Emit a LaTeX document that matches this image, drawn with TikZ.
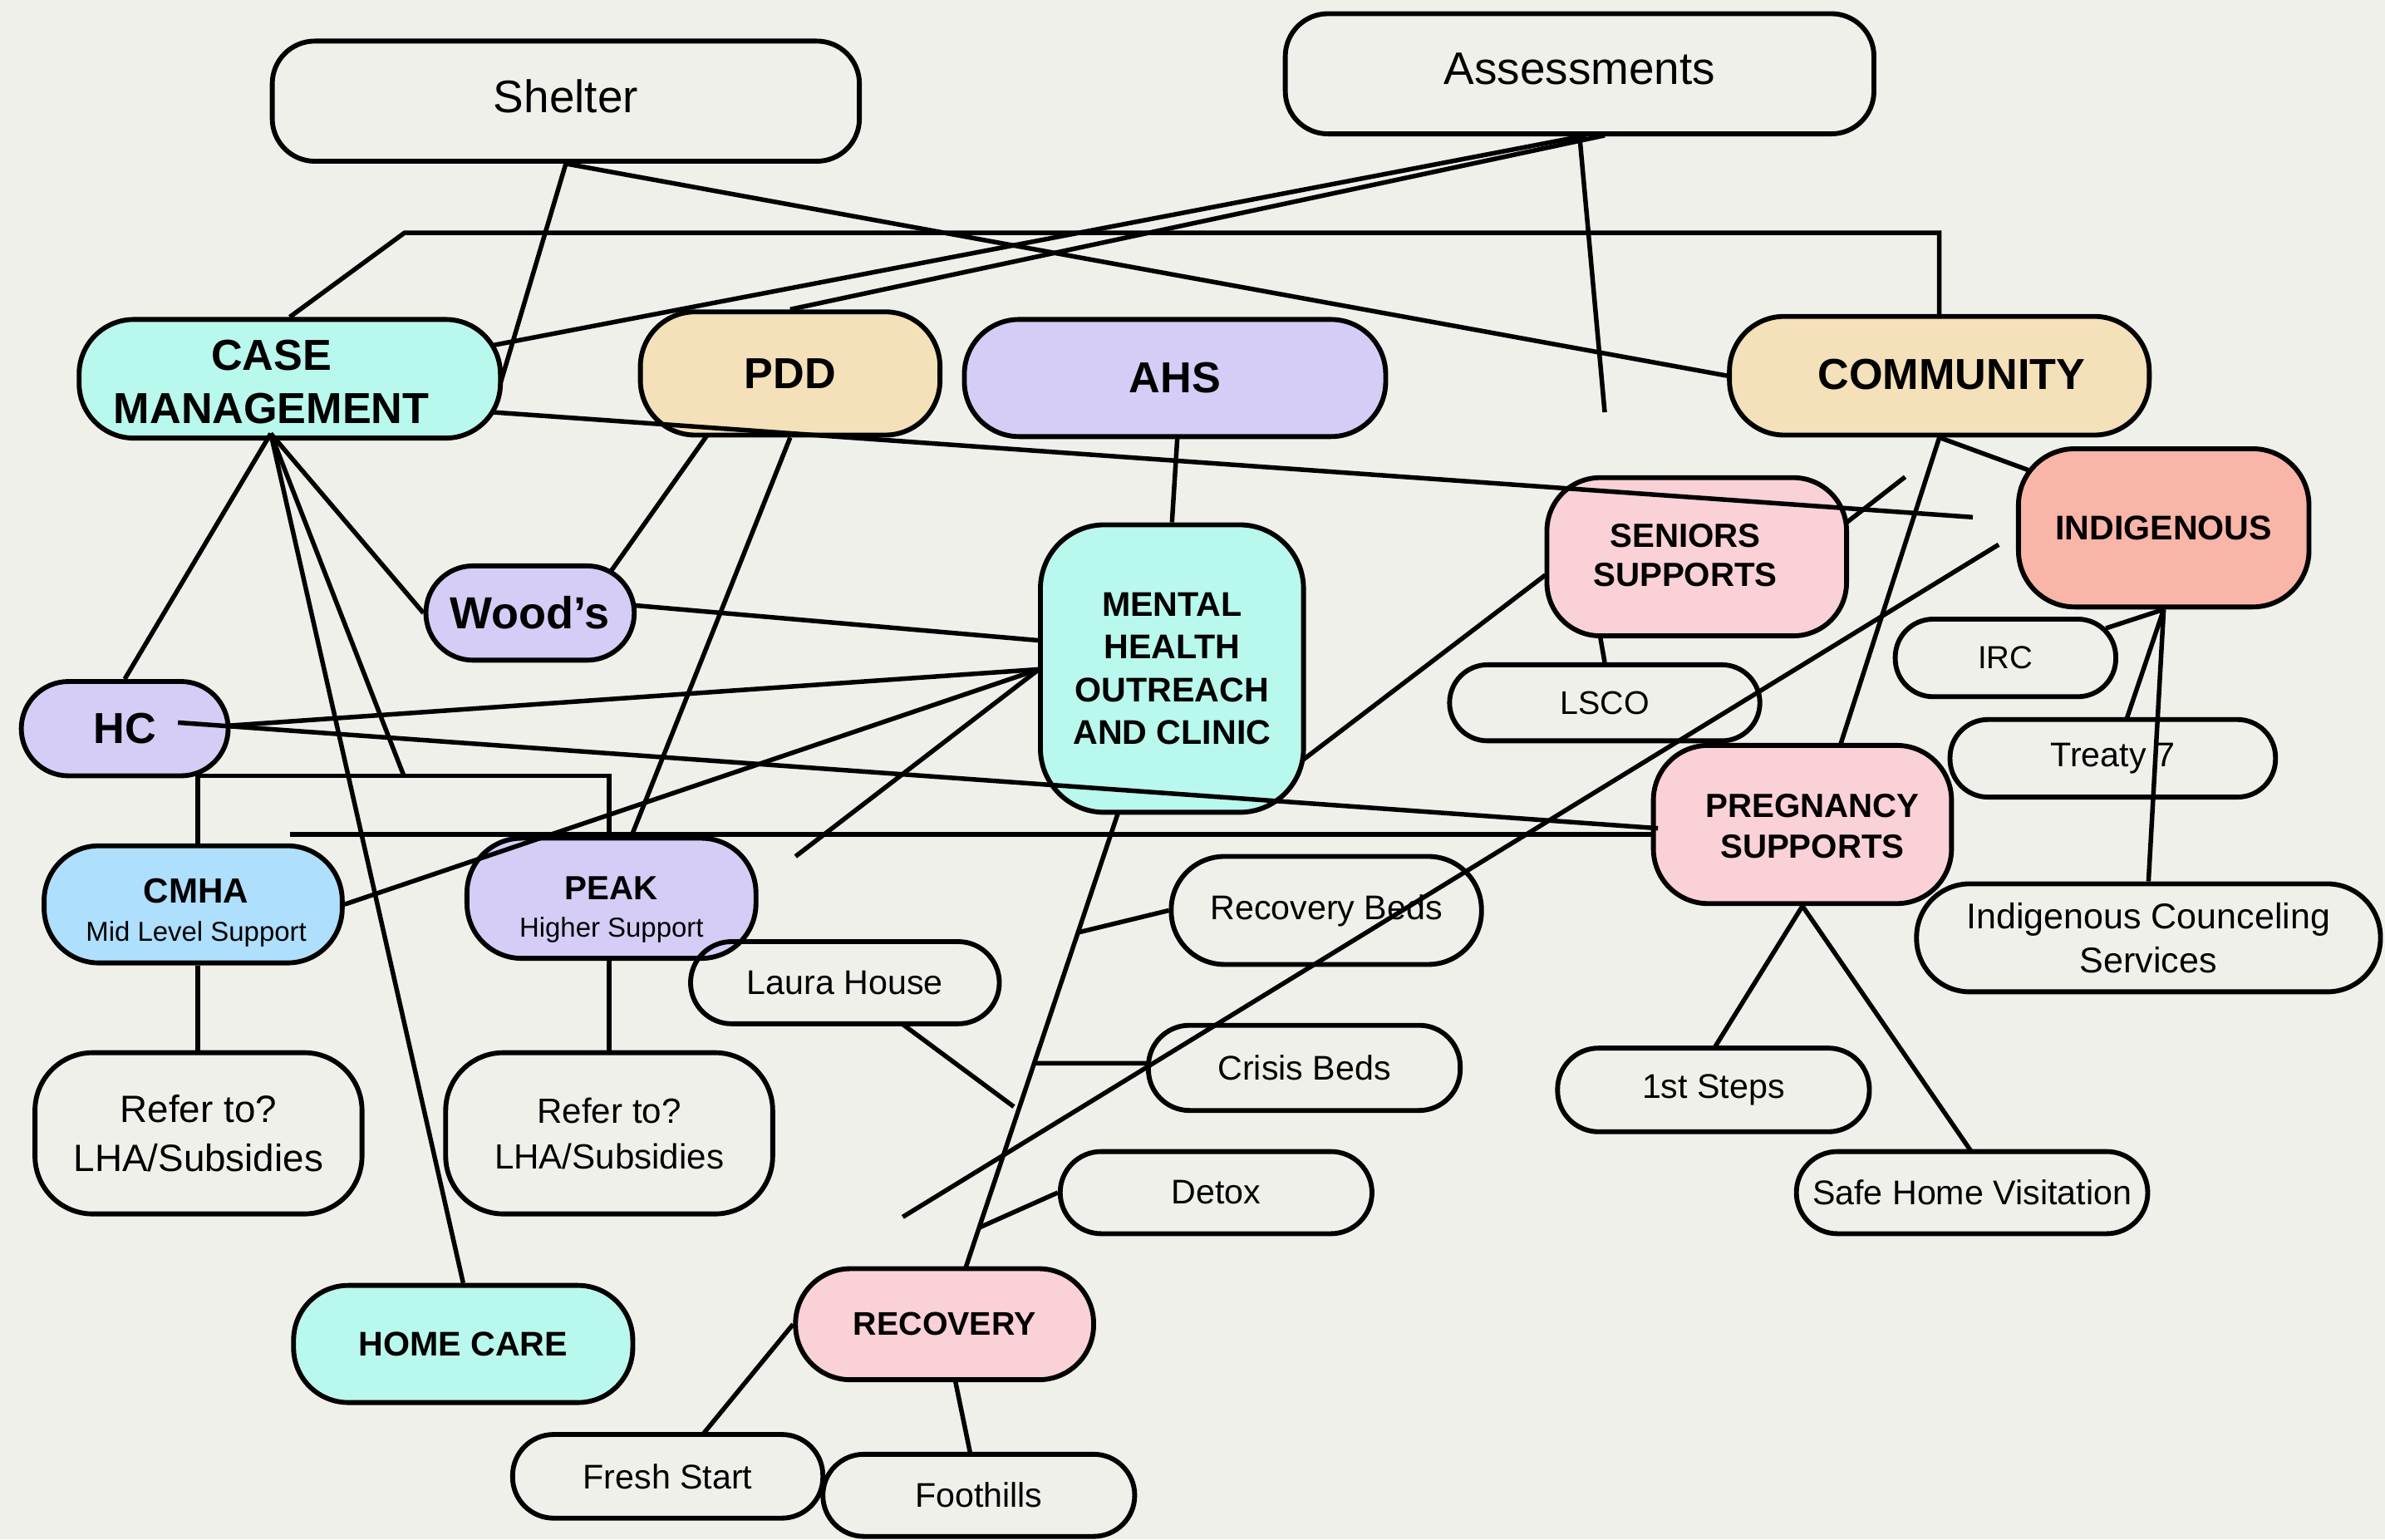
\documentclass[tikz,border=0pt]{standalone}
\usepackage{fontspec}
\setmainfont{Liberation Sans}
\usetikzlibrary{calc}
\definecolor{bgc}{HTML}{F0F0EA}
\definecolor{mint}{HTML}{B9F8EC}
\definecolor{beige}{HTML}{F4E0B9}
\definecolor{lav}{HTML}{D5CDF6}
\definecolor{pinkc}{HTML}{F9D1D7}
\definecolor{salmon}{HTML}{F9B5A8}
\definecolor{bluec}{HTML}{AEDFFC}
\begin{document}
\begin{tikzpicture}[x=1pt,y=-1pt,
  box/.style={draw=black, line width=3.2pt, rounded corners=#1, inner sep=0pt, align=center},
  box/.default=27pt,
  rtxt/.style={font=\fontsize{22.5}{27}\selectfont, align=center},
  btxt/.style={font=\fontsize{22.5}{27}\selectfont\bfseries, align=center},
  bbig/.style={font=\fontsize{28.5}{35}\selectfont\bfseries, align=center},
  conn/.style={draw=black, line width=3pt}]
\fill[bgc] (0,0) rectangle (1568,1012);
\useasboundingbox (0,0) rectangle (1568,1012);

% ---------- nodes ----------
\node[box=28pt, minimum width=386pt, minimum height=79pt, text depth=7pt, font=\fontsize{30}{36}\selectfont] (shelter) at (372,66.5) {Shelter};
\node[box=28pt, minimum width=387pt, minimum height=79pt, text depth=7pt, font=\fontsize{30}{36}\selectfont] (assess) at (1038.5,48.5) {Assessments};

\node[box=36pt, fill=mint, minimum width=277pt, minimum height=78pt] (cm) at (190.5,249) {};
\node[bbig] (cmt) at (178.5,251) {CASE\\MANAGEMENT};
\node[box=36pt, fill=beige, minimum width=197pt, minimum height=81pt, bbig] (pdd) at (519.5,245.5) {PDD};
\node[box=36pt, fill=lav, minimum width=277pt, minimum height=77pt, bbig] (ahs) at (772.5,248.5) {AHS};
\node[box=36pt, fill=beige, minimum width=276pt, minimum height=78pt] (comm) at (1275,247) {};
\node[bbig] (commt) at (1283,246) {COMMUNITY};

\node[box=35pt, fill=pinkc, minimum width=197pt, minimum height=104pt] (seniors) at (1115.5,366) {};
\node[btxt, font=\fontsize{22}{26}\selectfont\bfseries] (seniorst) at (1108,365) {SENIORS\\SUPPORTS};
\node[box=37pt, fill=salmon, minimum width=191pt, minimum height=104pt, btxt] (indig) at (1422.5,347) {INDIGENOUS};
\node[box=42pt, fill=mint, minimum width=173pt, minimum height=189pt, btxt, font=\fontsize{22.5}{28}\selectfont\bfseries] (mh) at (770.5,439.5) {MENTAL\\HEALTH\\OUTREACH\\AND CLINIC};

\node[box=31pt, fill=lav, minimum width=137pt, minimum height=62pt, bbig, font=\fontsize{29.5}{35}\selectfont\bfseries] (woods) at (348.5,403) {Wood’s};
\node[box=31pt, fill=lav, minimum width=136pt, minimum height=62pt, bbig] (hc) at (82,479) {HC};

\node[box=25pt, minimum width=145pt, minimum height=51pt, rtxt, font=\fontsize{21}{25}\selectfont] (irc) at (1318.5,432.5) {IRC};
\node[box=25pt, minimum width=204pt, minimum height=50pt, rtxt, font=\fontsize{21.5}{25}\selectfont] (lsco) at (1055,462) {LSCO};
\node[box=25pt, minimum width=214pt, minimum height=51pt, rtxt] (treaty) at (1389,498.5) {Treaty 7};

\node[box=36pt, fill=pinkc, minimum width=196pt, minimum height=104pt] (preg) at (1185,542) {};
\node[btxt, font=\fontsize{22}{27}\selectfont\bfseries] (pregt) at (1191.5,543) {PREGNANCY\\SUPPORTS};

\node[box=36pt, fill=bluec, minimum width=196pt, minimum height=77pt] (cmha) at (127,594.5) {};
\node[align=center, font=\fontsize{18}{25}\selectfont] (cmhat) at (129,600) {{\fontsize{23}{25}\selectfont\bfseries CMHA}\\Mid Level Support};
\node[box=36pt, fill=lav, minimum width=190pt, minimum height=79pt] (peak) at (402,590.5) {};
\node[align=center, font=\fontsize{18}{25}\selectfont] (peakt) at (402,598) {{\fontsize{22}{25}\selectfont\bfseries PEAK}\\Higher Support};

\node[box=27pt, minimum width=203pt, minimum height=54pt, rtxt] (laura) at (555.5,646) {Laura House};
\node[box=35pt, minimum width=204pt, minimum height=71pt, rtxt] (recbeds) at (872,598.5) {Recovery Beds};
\node[box=35pt, minimum width=305pt, minimum height=71pt, rtxt, font=\fontsize{23.5}{29}\selectfont] (icoun) at (1412.5,616.5) {Indigenous Counceling\\Services};

\node[box=38pt, minimum width=215pt, minimum height=106pt, rtxt, font=\fontsize{25}{32}\selectfont] (refer1) at (130.5,745) {Refer to?\\LHA/Subsidies};
\node[box=38pt, minimum width=215pt, minimum height=106pt, rtxt, font=\fontsize{23}{30}\selectfont] (refer2) at (400.5,745) {Refer to?\\LHA/Subsidies};

\node[box=27pt, minimum width=205pt, minimum height=56pt, rtxt] (crisis) at (857.5,702) {Crisis Beds};
\node[box=27pt, minimum width=205pt, minimum height=55pt, rtxt] (steps) at (1126.5,716.5) {1st Steps};
\node[box=27pt, minimum width=205pt, minimum height=54pt, rtxt] (detox) at (799.5,784) {Detox};
\node[box=27pt, minimum width=231pt, minimum height=54pt, rtxt] (safe) at (1296.5,784) {Safe Home Visitation};

\node[box=36pt, fill=mint, minimum width=223pt, minimum height=77pt, btxt] (homecare) at (304.5,883.5) {HOME CARE};
\node[box=36pt, fill=pinkc, minimum width=196pt, minimum height=73pt, btxt, font=\fontsize{21.5}{26}\selectfont\bfseries] (recovery) at (621,870.5) {RECOVERY};
\node[box=27pt, minimum width=204pt, minimum height=55pt, rtxt] (fresh) at (439,970.5) {Fresh Start};
\node[box=27pt, minimum width=205pt, minimum height=54pt, rtxt] (foot) at (643.5,983) {Foothills};

% ---------- coordinates ----------
\coordinate (c1) at (266,153);
\coordinate (c2) at (1275,153);
\coordinate (af) at (1055,271);
\coordinate (cmf) at (1297,340);
\coordinate (cmb) at ([shift={(-12.5,36)}]cm.center);
\coordinate (br0) at (265.5,510);
\coordinate (br1) at (130,510);
\coordinate (br2) at (400.5,510);
\coordinate (mhl) at ([shift={(-87.5,0.5)}]mh.center);
\coordinate (h0) at (190.5,548.5);
\coordinate (mf) at (523,563);
\coordinate (sf) at (1252.5,313.5);
\coordinate (d1) at (1314,358);
\coordinate (d2) at (593.5,800);
\coordinate (mhb) at ([shift={(-35.5,95)}]mh.center);
\coordinate (rect) at ([shift={(14,-37.5)}]recovery.center);
\coordinate (b1) at ($(mhb)!0.263!(rect)$);
\coordinate (b2) at ($(mhb)!0.551!(rect)$);
\coordinate (b3) at ($(mhb)!0.913!(rect)$);
\coordinate (lf) at (666.5,727.5);

% ---------- connectors ----------
\draw[conn] (shelter.south) -- ([shift={(138.5,3)}]cm.center);
\draw[conn] (shelter.south) -- (comm.west);
\draw[conn] (cm.north) -- (c1) -- (c2) -- (comm.north);
\draw[conn] ([shift={(4.5,40.5)}]assess.center) -- ([shift={(133.5,-22)}]cm.center);
\draw[conn] ([shift={(16.5,40.5)}]assess.center) -- (pdd.north);
\draw[conn] (assess.south) -- (af);
\draw[conn] ([shift={(133.5,22)}]cm.center) -- (cmf);

\draw[conn] (cmb) -- (hc.north);
\draw[conn] (cmb) -- (woods.west);
\draw[conn] (cmb) -- (br0);
\draw[conn] (br1 |- cmha.north) -- (br1) -- (br2) -- (br2 |- peak.north);
\draw[conn] (cmb) -- (homecare.north);
\draw[conn] ([xshift=3pt]cmha.south) -- ([xshift=3pt]cmha.south |- refer1.north);
\draw[conn] ([xshift=-1.5pt]peak.south) -- ([xshift=-1.5pt]peak.south |- refer2.north);

\draw[conn] ([shift={(-54.5,40.5)}]pdd.center) -- ([shift={(53.5,-28)}]woods.center);
\draw[conn] (pdd.south) -- ([shift={(13,-40.5)}]peak.center);
\draw[conn] ([shift={(1.5,39.5)}]ahs.center) -- (mh.north);
\draw[conn] ([shift={(69,-5)}]woods.center) -- ([shift={(-87.5,-18.5)}]mh.center);
\draw[conn] ([shift={(69,-2)}]hc.center) -- (mhl);
\draw[conn] ([shift={(35,-4)}]hc.center) -- ([shift={(-95,2.5)}]preg.center);
\draw[conn] (h0) -- (h0 -| preg.west);
\draw[conn] (cmha.east) -- (mhl);
\draw[conn] (mhl) -- (mf);
\draw[conn] ([shift={(85.5,60.5)}]mh.center) -- ([shift={(-99.5,12)}]seniors.center);
\draw[conn] ([shift={(98.5,-22.5)}]seniors.center) -- (sf);
\draw[conn] ([shift={(-63.5,52.5)}]seniors.center) -- (lsco.north);
\draw[conn] (comm.south) -- ([shift={(-89,-38)}]indig.center);
\draw[conn] (comm.south) -- ([shift={(25,-52.5)}]preg.center);
\draw[conn] (d1) -- (d2);
\draw[conn] (indig.south) -- ([shift={(66,-19.5)}]irc.center);
\draw[conn] (indig.south) -- ([shift={(9,-25.5)}]treaty.center);
\draw[conn] (indig.south) -- (icoun.north);
\draw[conn] (preg.south) -- ([shift={(0.5,-27.5)}]steps.center);
\draw[conn] (preg.south) -- ([shift={(-0.5,-27)}]safe.center);
\draw[conn] (mhb) -- (rect);
\draw[conn] (b1) -- (recbeds.west);
\draw[conn] (b2) -- ([shift={(-102.5,-3)}]crisis.center);
\draw[conn] (b3) -- (detox.west);
\draw[conn] ([shift={(37.5,27)}]laura.center) -- (lf);
\draw[conn] (recovery.west) -- ([shift={(23,-27.5)}]fresh.center);
\draw[conn] ([shift={(7,37)}]recovery.center) -- ([shift={(-5.5,-27)}]foot.center);
\end{tikzpicture}
\end{document}
